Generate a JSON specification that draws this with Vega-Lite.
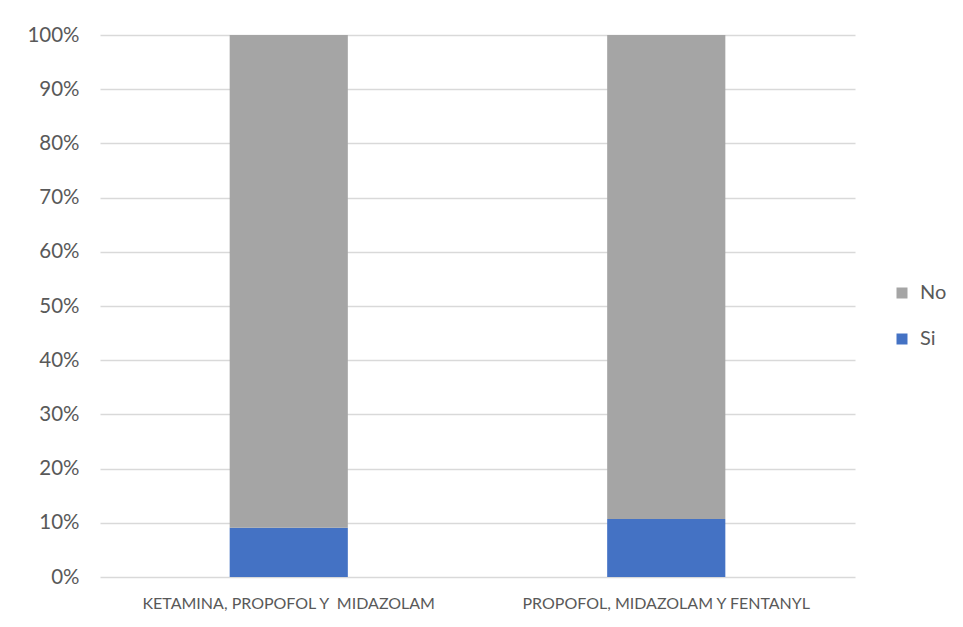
{
  "$schema": "https://vega.github.io/schema/vega-lite/v6.json",
  "width": 755,
  "height": 542,
  "autosize": {"type": "none"},
  "padding": {"left": 100, "top": 35, "right": 108, "bottom": 50},
  "background": "white",
  "data": {
    "values": [
      {"grupo": "KETAMINA, PROPOFOL Y\u00a0 MIDAZOLAM", "respuesta": "Si", "pct": 0.091},
      {"grupo": "KETAMINA, PROPOFOL Y\u00a0 MIDAZOLAM", "respuesta": "No", "pct": 0.909},
      {"grupo": "PROPOFOL, MIDAZOLAM Y FENTANYL", "respuesta": "Si", "pct": 0.107},
      {"grupo": "PROPOFOL, MIDAZOLAM Y FENTANYL", "respuesta": "No", "pct": 0.893}
    ]
  },
  "mark": {"type": "bar"},
  "encoding": {
    "x": {
      "field": "grupo",
      "type": "nominal",
      "sort": null,
      "title": null,
      "scale": {"paddingInner": 0.687, "paddingOuter": 0.3435},
      "axis": {
        "labelAngle": 0,
        "labelFont": "Lato",
        "labelFontSize": 16,
        "labelColor": "#595959",
        "labelPadding": 18,
        "labelLimit": 0,
        "ticks": false,
        "domain": false,
        "grid": false
      }
    },
    "y": {
      "field": "pct",
      "type": "quantitative",
      "stack": "zero",
      "title": null,
      "scale": {"domain": [0, 1], "nice": false},
      "axis": {
        "values": [0, 0.1, 0.2, 0.3, 0.4, 0.5, 0.6, 0.7, 0.8, 0.9, 1],
        "format": ".0%",
        "labelFont": "Lato",
        "labelFontSize": 20.5,
        "labelColor": "#595959",
        "labelPadding": 21,
        "ticks": false,
        "domain": false,
        "grid": true,
        "gridColor": "#d9d9d9",
        "gridWidth": 1.3
      }
    },
    "color": {
      "field": "respuesta",
      "type": "nominal",
      "title": null,
      "scale": {"domain": ["No", "Si"], "range": ["#a5a5a5", "#4472c4"]},
      "legend": {
        "orient": "none",
        "legendX": 792,
        "legendY": 248,
        "symbolType": "square",
        "symbolSize": 121,
        "symbolStrokeWidth": 0,
        "labelFont": "Lato",
        "labelFontSize": 20,
        "labelColor": "#595959",
        "labelOffset": 8,
        "rowPadding": 26
      }
    },
    "order": {"field": "respuesta", "sort": "descending"}
  },
  "config": {
    "view": {"stroke": null}
  }
}
